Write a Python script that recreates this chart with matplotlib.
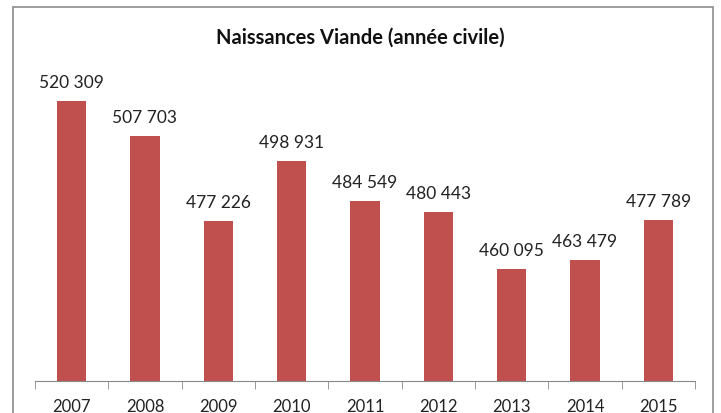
import matplotlib.pyplot as plt
from matplotlib.patches import Rectangle

years = ["2007", "2008", "2009", "2010", "2011", "2012", "2013", "2014", "2015"]
births = [520309, 507703, 477226, 498931, 484549, 480443, 460095, 463479, 477789]

plt.rcParams["font.family"] = ["Lato", "DejaVu Sans"]

fig = plt.figure(figsize=(7.21, 4.14), dpi=100)
fig.patches.append(Rectangle((13 / 721, -0.1), 700 / 721, 1.1 - 8 / 414,
                             transform=fig.transFigure, fill=False,
                             edgecolor="#8c8c8c", linewidth=1.2))

ax = fig.add_axes([35 / 721, 1 - 382 / 414, 660 / 721, 339 / 414])
x = list(range(len(years)))
bars = ax.bar(x, births, width=0.4, color="#C0504D")
ax.set_ylim(420000, 541500)
ax.set_xlim(-0.5, len(years) - 0.5)

for b, v in zip(bars, births):
    label = f"{v:,}".replace(",", " ")
    ax.annotate(label, (b.get_x() + b.get_width() / 2, v), xytext=(0, 8),
                textcoords="offset points", ha="center", va="bottom",
                fontsize=12.5, color="#222222")

for s in ["top", "right", "left"]:
    ax.spines[s].set_visible(False)
ax.spines["bottom"].set_color("#888888")
ax.set_yticks([])
ax.set_xticks(x)
ax.set_xticklabels(years, fontsize=12, color="#222222")
ax.tick_params(axis="x", length=0, pad=12)
ax.set_xticks([i - 0.5 for i in range(len(years) + 1)], minor=True)
ax.tick_params(axis="x", which="minor", length=6, color="#888888")

fig.text(0.5, 1 - 38 / 414, "Naissances Viande (année civile)", ha="center",
         va="center", fontsize=14.5, fontweight="bold", color="#111111")

fig.savefig("out.png", dpi=100)
